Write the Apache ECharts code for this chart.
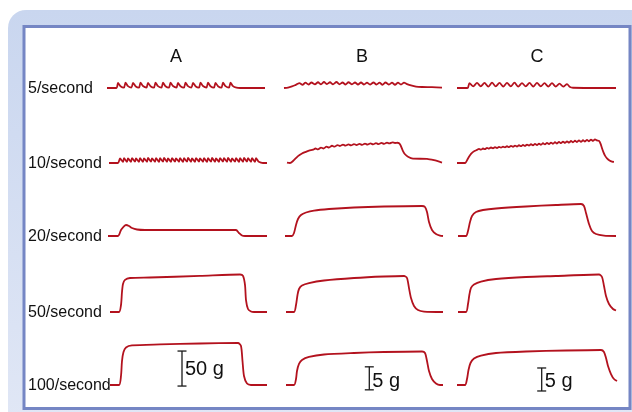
<!DOCTYPE html>
<html>
<head>
<meta charset="utf-8">
<script src="https://cdn.jsdelivr.net/npm/echarts@6/dist/echarts.min.js"></script>
<style>
  html, body { margin: 0; padding: 0; background: #fff; }
  #chart { width: 632px; height: 412px; }
</style>
</head>
<body>
<div id="chart"></div>
<script>
// stimulation rates (rows) and muscles (columns)
var rates = ['5/second', '10/second', '20/second', '50/second', '100/second'];
var muscles = ['A', 'B', 'C'];

// tension traces: [time (arb. units 0-162), tension (g)]
var A_5 = [[0,0],[9.5,0],
  [11,7.2],[13.5,2.6],[17,0.6],[18.5,7.6],[21,2.7],[24.5,0.7],[26,7.4],[28.5,2.6],[32,0.6],
  [33.5,7.8],[36,2.8],[39.5,0.7],[41,7.3],[43.5,2.6],[47,0.6],[48.5,7.6],[51,2.7],[54.5,0.7],
  [56,7.5],[58.5,2.6],[62,0.6],[63.5,7.7],[66,2.8],[69.5,0.7],[71,7.2],[73.5,2.6],[77,0.6],
  [78.5,7.6],[81,2.7],[84.5,0.7],[86,7.4],[88.5,2.6],[92,0.6],[93.5,7.8],[96,2.8],[99.5,0.7],
  [101,7.5],[103.5,2.6],[107,0.6],[108.5,7.3],[111,2.6],[114.5,0.6],[116,7.6],[118.5,2.7],[122,0.7],
  [123.5,7.7],[126,2.6],[129.5,0.5],[133,0],[158,0]];
var A_10 = [[2,0],[11,0],
  [13,6.4],[16,1.6],[17,6.9],[20,1.8],[21,6.6],[24,1.7],[25,7.1],[28,1.9],[29,6.5],[32,1.7],
  [33,7.0],[36,1.8],[37,6.7],[40,1.7],[41,7.2],[44,1.9],[45,6.6],[48,1.8],[49,7.0],[52,1.7],
  [53,6.8],[56,1.9],[57,7.3],[60,1.8],[61,6.6],[64,1.7],[65,7.1],[68,1.9],[69,6.7],[72,1.8],
  [73,7.0],[76,1.7],[77,6.8],[80,1.9],[81,7.2],[84,1.8],[85,6.6],[88,1.7],[89,7.0],[92,1.9],
  [93,6.7],[96,1.8],[97,7.1],[100,1.7],[101,6.8],[104,1.9],[105,7.2],[108,1.8],[109,6.6],[112,1.7],
  [113,7.0],[116,1.9],[117,6.8],[120,1.8],[121,7.3],[124,1.7],[125,6.7],[128,1.9],[129,7.0],[132,1.8],
  [133,6.8],[136,1.7],[137,7.2],[140,1.9],[141,6.9],[144,1.8],[145,7.1],[148,1.7],[149,6.9],
  [151.5,2.0],[154,0.5],[156,0],[160,0]];
var A_20 = [[1,0],[11,0],[14,8.6],[16.5,13],[19,15.7],[22,14.3],[25,11.4],[30,9.3],[38,8.6],
  [129,8.6],[132,4.3],[135,0.7],[138,0],[160,0]];
var A_50 = [[3,0],[12,0],[14,10],[15,28.6],[16,40],[18,45.8],[23,48.6],[43,49.3],[93,51.5],
  [133,53.6],[136,51.5],[138,38.6],[139,17],[141,4.3],[144,0.7],[147,0],[160,0]];
var A_100 = [[3,0],[12,0],[14,12.9],[15,34.3],[16.5,47.2],[19,53.6],[25,56.5],[53,57.9],[93,59.3],
  [131,60],[134,55.8],[135.5,34.3],[137,12.9],[140,2.1],[144,0],[160,0]];

var B_5 = [[0,0],[4,0.1],[8,0.35],[11,0.6],[13,0.85],
  [15.5,1.05],[18.5,0.7],[21.5,1.15],[24.5,0.75],[27.5,1.2],[31,0.8],[34,1.25],[37,0.8],
  [40,1.3],[43,0.85],[46,1.25],[49,0.8],[52.5,1.3],[55.5,0.8],[58.5,1.2],[61.5,0.75],
  [64.5,1.25],[68,0.8],[71,1.2],[74,0.75],[77,1.2],[80,0.75],[83,1.15],[86,0.75],
  [89.5,1.2],[92.5,0.75],[95.5,1.15],[98.5,0.7],[101.5,1.2],[105,0.75],[108,1.15],[111,0.7],
  [114,1.15],[117,0.75],[120,1.15],[123,0.85],[127,0.55],[132,0.3],[138,0.22],[148,0.18],[158,0.1]];
var B_10 = [[3,0.1],[6,0],[9,0.43],[14,1.5],[18,2.05],[21,2.35],[25,2.7],[29,2.9],
  [31.5,3.15],[34,2.95],[37,3.35],[39.5,3.15],[42.5,3.55],[45,3.35],[48,3.75],[50.5,3.55],
  [53.5,3.9],[56,3.7],[59,4.0],[61.5,3.78],[64.5,4.05],[67,3.85],[70,4.12],[72.5,3.9],
  [75.5,4.15],[78,3.95],[81,4.22],[83.5,4.0],[86.5,4.25],[89,4.05],[92,4.32],[94.5,4.1],
  [97.5,4.38],[100,4.15],[103,4.42],[105.5,4.25],[108.5,4.5],[111,4.35],[113.5,4.4],
  [116,4.1],[119,2.6],[121,1.9],[124,1.35],[129,0.95],[143,0.9],[150,0.6],[158,0.1]];
var B_20 = [[1,0],[8,0],[10,0.65],[12,2.39],[14,3.7],[17,4.57],[22,5.11],[30,5.54],[45,5.87],
  [70,6.2],[100,6.41],[138,6.52],[141,6.3],[143,5.22],[145,3.04],[148,1.3],[152,0.43],[156,0.1],[159,0]];
var B_50 = [[2,0],[10,0],[12,1.52],[13.5,3.7],[15,5.0],[18,5.76],[25,6.3],[40,6.85],[70,7.39],
  [100,7.72],[120,7.83],[123,7.39],[125,5.2],[127,3.04],[130,1.3],[134,0.43],[140,0.1],[159,0]];
var B_100 = [[2,0],[10,0],[12,1.3],[13,3.04],[15,4.57],[18,5.43],[25,6.09],[40,6.63],[70,6.96],
  [100,7.17],[138,7.28],[141,6.96],[143,5.22],[145,3.04],[148,1.3],[152,0.33],[156,0],[159,0]];

var C_5 = [[1,0],[11,0],[12,0.1],
  [13.5,1.05],[17.25,0.35],[21,1.1],[24.75,0.35],[28.5,1.1],[32.25,0.3],[36,1.15],[39.75,0.35],
  [43.5,1.1],[47.25,0.3],[51,1.1],[54.75,0.35],[58.5,1.15],[62.25,0.3],[66,1.05],[69.75,0.35],
  [73.5,1.1],[77.25,0.3],[81,1.1],[84.75,0.35],[88.5,1.05],[92.25,0.3],[96,1.05],[99.75,0.3],
  [103.5,0.95],[107.25,0.3],[111,0.85],[114,0.2],[117,0.05],[160,0]];
var C_10 = [[1,0],[9,0],[12,1.0],[14,1.7],[16,2.2],[18.5,2.6],[21,2.85],
  [23,3.05],[25,2.9],[27,3.15],[29,3.02],[31,3.3],[33,3.12],[35,3.37],[37,3.2],[39,3.43],[41,3.26],
  [43,3.5],[45,3.33],[47,3.57],[49,3.4],[51,3.64],[53,3.45],[55,3.72],[57,3.52],[59,3.78],[61,3.58],
  [63,3.86],[65,3.65],[67,3.93],[69,3.71],[71,4.0],[73,3.78],[75,4.08],[77,3.84],[79,4.15],[81,3.9],
  [83,4.22],[85,3.96],[87,4.3],[89,4.03],[91,4.37],[93,4.1],[95,4.45],[97,4.17],[99,4.52],[101,4.23],
  [103,4.59],[105,4.3],[107,4.65],[109,4.37],[111,4.72],[113,4.43],[115,4.79],[117,4.5],[119,4.85],
  [121,4.56],[123,4.91],[125,4.61],[127,4.95],[129,4.67],[131,5.02],[133,4.73],[135,5.08],[137,4.79],
  [139,5.14],[141,4.9],[143,4.8],[144.5,4.2],[146,3.2],[147.5,2.3],[149,1.6],[151,1.0],[153.5,0.55],
  [156,0.3],[158,0.25]];
var C_20 = [[2,0],[10,0],[12,1.09],[14,3.04],[16,4.35],[20,5.22],[27,5.65],[40,5.98],[70,6.41],
  [100,6.74],[125,6.96],[128,6.52],[130,5.0],[133,2.61],[136,1.09],[140,0.43],[148,0.1],[160,0]];
var C_50 = [[2,0],[10,0],[12,1.74],[13.5,3.91],[15,5.22],[18,5.98],[25,6.63],[40,7.17],[70,7.61],
  [100,7.83],[143,8.15],[146,7.61],[148,5.65],[150,3.48],[153,1.74],[157,0.65],[160,0.33]];
var C_100 = [[1,0],[9,0],[11,1.3],[12.5,3.26],[14.5,4.78],[18,5.76],[25,6.41],[40,6.96],[70,7.28],
  [110,7.5],[145,7.61],[148,7.17],[150,5.87],[152,4.13],[155,2.39],[158,1.3],[161,0.87]];

// calibration bars (bottom row): [time, from g, to g, label]
var barA = [75, -1.5, 48.5, '50 g'];
var barB = [85.3, -1.05, 3.95, '5 g'];
var barC = [85.7, -1.3, 3.7, '5 g'];
// height (g) where each bar's label sits
var barLabelAt = [22.4, 0.72, 0.72];

var traces = [
  [A_5, B_5, C_5],
  [A_10, B_10, C_10],
  [A_20, B_20, C_20],
  [A_50, B_50, C_50],
  [A_100, B_100, C_100]
];
var bars = [barA, barB, barC];

// layout (pixels)
var rowBase = [88, 163, 236, 312, 385];
var colLeft = [107, 284, 456];
var colTitleX = [176, 362, 537];
// g per pixel: column A 50 g = 35 px, columns B/C 5 g = 23 px
var gPerPx = [50 / 35, 5 / 23, 5 / 23];

var RED = '#b3121e';
var FONT = '"Liberation Sans", Arial, sans-serif';

var grid = [], xAxis = [], yAxis = [], series = [];
var k = 0;
for (var r = 0; r < rates.length; r++) {
  for (var c = 0; c < muscles.length; c++) {
    grid.push({ left: colLeft[c], top: rowBase[r] - 50, width: 162, height: 60 });
    xAxis.push({ type: 'value', gridIndex: k, min: 0, max: 162, show: false });
    yAxis.push({ type: 'value', gridIndex: k, min: -10 * gPerPx[c], max: 50 * gPerPx[c], show: false });
    series.push({
      type: 'line', xAxisIndex: k, yAxisIndex: k,
      data: traces[r][c], showSymbol: false, smooth: 0.25, clip: false,
      lineStyle: { color: RED, width: 1.8 }, silent: true
    });
    if (r === rates.length - 1) {
      var b = bars[c];
      series.push({
        type: 'line', xAxisIndex: k, yAxisIndex: k,
        data: [[b[0], b[1]], [b[0], b[2]]], symbol: 'rect', symbolSize: [9, 1.3], showSymbol: true,
        clip: false, itemStyle: { color: '#1a1a1a' }, lineStyle: { color: '#1a1a1a', width: 1.3 }, silent: true
      });
      series.push({
        type: 'scatter', xAxisIndex: k, yAxisIndex: k, clip: false, silent: true,
        data: [[b[0], barLabelAt[c]]], symbolSize: 0,
        itemStyle: { color: 'rgba(0,0,0,0)', opacity: 1 },
        label: { show: true, position: 'right', distance: 3, formatter: b[3],
          fontFamily: FONT, fontSize: 20, color: '#111', opacity: 1 }
      });
    }
    k++;
  }
}

var graphic = [
  { type: 'rect', z: -10, shape: { x: 8, y: 10, width: 680, height: 440, r: 18 },
    style: { fill: new echarts.graphic.LinearGradient(0, 0, 0, 1, [
      { offset: 0, color: '#c9d6ef' }, { offset: 1, color: '#e2e8f6' }]) } },
  { type: 'rect', z: -9, shape: { x: 24, y: 26.5, width: 606, height: 382 },
    style: { fill: '#fff', stroke: '#7586c4', lineWidth: 3 } }
];
muscles.forEach(function (m, i) {
  graphic.push({ type: 'text', x: colTitleX[i], y: 57,
    style: { text: m, font: '18px ' + FONT, fill: '#111', align: 'center', verticalAlign: 'middle' } });
});
rates.forEach(function (lab, i) {
  graphic.push({ type: 'text', x: 28, y: rowBase[i] + 1,
    style: { text: lab, font: '16px ' + FONT, fill: '#111', align: 'left', verticalAlign: 'middle' } });
});

var chart = echarts.init(document.getElementById('chart'));
chart.setOption({
  animation: false,
  backgroundColor: '#fff',
  graphic: graphic,
  grid: grid,
  xAxis: xAxis,
  yAxis: yAxis,
  series: series
});
</script>
</body>
</html>
